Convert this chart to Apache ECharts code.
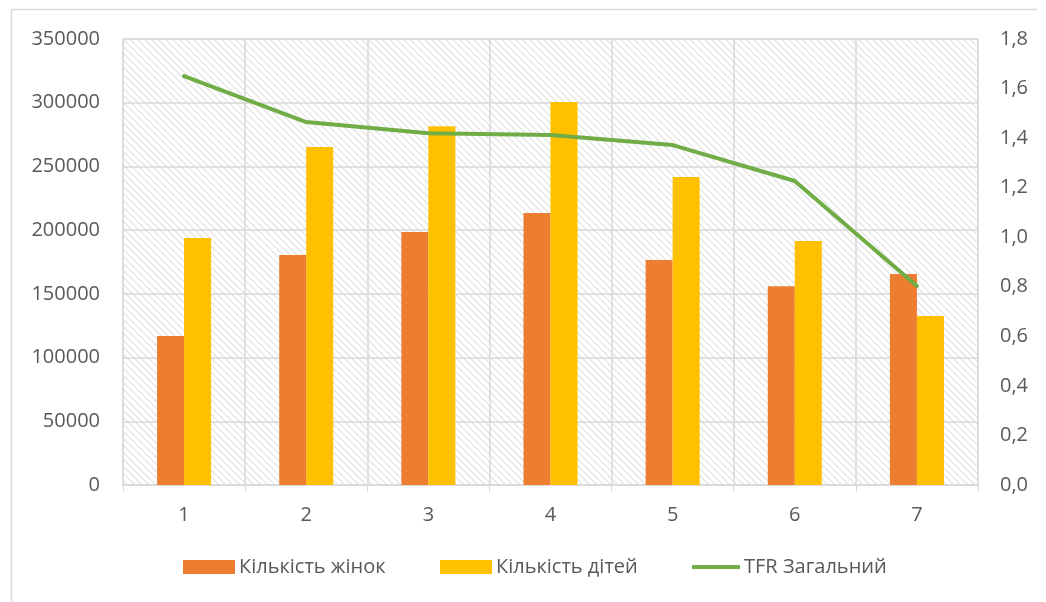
<!DOCTYPE html>
<html>
<head>
<meta charset="utf-8">
<script src="https://cdn.jsdelivr.net/npm/echarts@6/dist/echarts.min.js"></script>
<style>
  html, body { margin: 0; padding: 0; background: #fff; }
  #main { width: 1046px; height: 602px; }
</style>
</head>
<body>
<div id="main"></div>
<script>
// дані
var categories = ['1', '2', '3', '4', '5', '6', '7'];
var women = [117000, 180500, 198500, 213500, 176500, 156000, 165500];
var children = [193800, 265200, 281500, 300600, 241700, 191500, 132600];
var tfr = [1.65, 1.465, 1.42, 1.413, 1.372, 1.227, 0.803];

var font = '"Open Sans", "Noto Sans", sans-serif';
var txt = '#595959';
var gridCol = '#d9d9d9';

// штрихування фону
var pat = document.createElement('canvas');
pat.width = 7; pat.height = 7;
var ctx = pat.getContext('2d');
ctx.fillStyle = '#fff';
ctx.fillRect(0, 0, 7, 7);
ctx.strokeStyle = '#e0e0e0';
ctx.lineWidth = 1.2;
ctx.beginPath();
ctx.moveTo(-1, -1); ctx.lineTo(8, 8);
ctx.moveTo(-1, 6); ctx.lineTo(1, 8);
ctx.moveTo(6, -1); ctx.lineTo(8, 1);
ctx.stroke();

var chart = echarts.init(document.getElementById('main'));
chart.setOption({
  animation: false,
  textStyle: { fontFamily: font },
  graphic: [
    { type: 'line', shape: { x1: 11, y1: 9.5, x2: 1037, y2: 9.5 }, style: { stroke: gridCol, lineWidth: 1.5 } },
    { type: 'line', shape: { x1: 11.5, y1: 9, x2: 11.5, y2: 602 }, style: { stroke: gridCol, lineWidth: 1.5 } }
  ],
  grid: {
    left: 123, right: 68, top: 39, bottom: 117,
    show: true,
    backgroundColor: { image: pat, repeat: 'repeat' },
    borderColor: gridCol, borderWidth: 1
  },
  legend: [
    { data: [{ name: 'Кількість жінок', icon: 'rect' }], left: 183, top: 557, itemWidth: 52, itemHeight: 14 },
    { data: [{ name: 'Кількість дітей', icon: 'rect' }], left: 440, top: 557, itemWidth: 52, itemHeight: 14 },
    { data: [{ name: 'TFR Загальний', icon: 'roundRect' }], left: 692, top: 557, itemWidth: 48, itemHeight: 4 }
  ].map(function (l) {
    l.padding = 0; l.itemGap = 5;
    l.textStyle = { color: txt, fontSize: 20, fontFamily: font, padding: [0, 0, 0, -1] };
    return l;
  }),
  xAxis: {
    type: 'category',
    data: categories,
    axisLine: { lineStyle: { color: gridCol, width: 1 } },
    axisTick: { show: true, length: 7, lineStyle: { color: gridCol } },
    axisLabel: { color: txt, fontSize: 20, margin: 20 },
    splitLine: { show: true, lineStyle: { color: gridCol, width: 1.5 } }
  },
  yAxis: [
    {
      type: 'value', min: 0, max: 350000, interval: 50000,
      axisLine: { show: false }, axisTick: { show: false },
      axisLabel: {
        color: txt, fontSize: 20, margin: 23,
        formatter: function (v) { return String(v); }
      },
      splitLine: { lineStyle: { color: gridCol, width: 1.5 } }
    },
    {
      type: 'value', min: 0, max: 1.8, interval: 0.2,
      axisLine: { show: false }, axisTick: { show: false },
      axisLabel: {
        color: txt, fontSize: 20, margin: 22,
        formatter: function (v) { return v.toFixed(1).replace('.', ','); }
      },
      splitLine: { show: false }
    }
  ],
  series: [
    {
      name: 'Кількість жінок', type: 'bar', data: women,
      barWidth: 27, barGap: '0%',
      itemStyle: { color: '#ed7d31' }
    },
    {
      name: 'Кількість дітей', type: 'bar', data: children,
      barWidth: 27,
      itemStyle: { color: '#ffc000' }
    },
    {
      name: 'TFR Загальний', type: 'line', data: tfr, yAxisIndex: 1,
      symbol: 'none',
      lineStyle: { color: '#70ad47', width: 4, cap: 'round' },
      itemStyle: { color: '#70ad47' }
    }
  ]
});
</script>
</body>
</html>
